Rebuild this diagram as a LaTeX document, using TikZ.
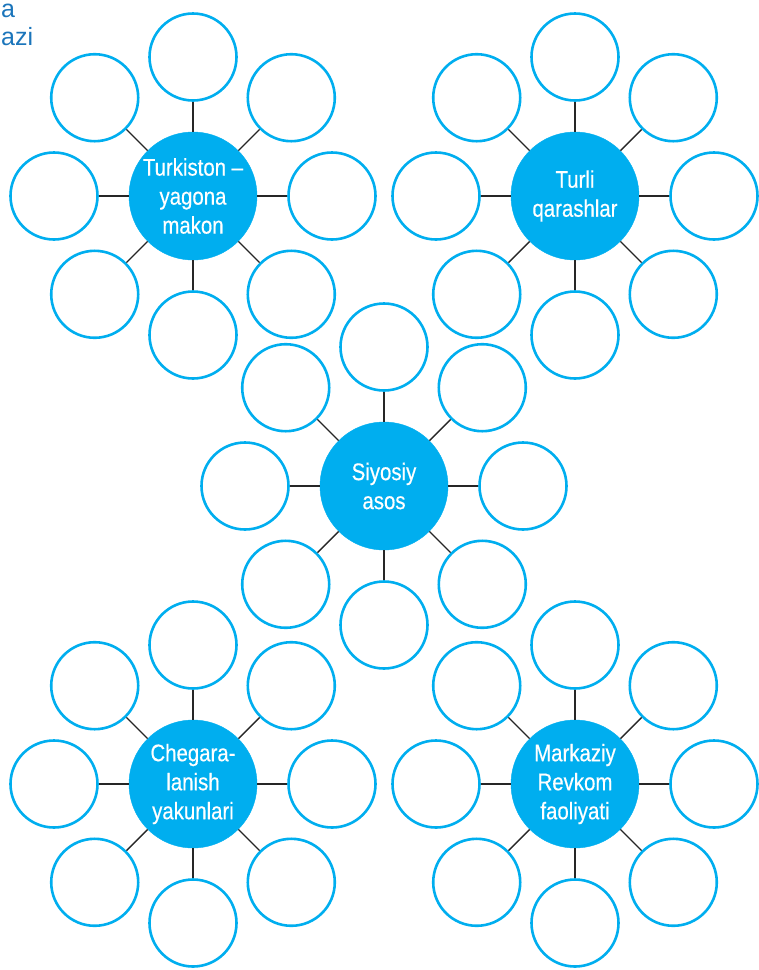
\documentclass[tikz,border=0pt]{standalone}
\usepackage{fontspec}
\setmainfont{Liberation Sans}[FakeStretch=0.85,FakeBold=0.4]
\newfontfamily\headfont{Liberation Sans}
\usetikzlibrary{calc}
\definecolor{cy}{HTML}{00AEEF}
\definecolor{hd}{HTML}{1B75BB}
\tikzset{
  hub/.style={circle, fill=cy, draw=cy, minimum size=128pt, inner sep=0pt, text=white, align=center, font=\fontsize{24}{29}\selectfont},
  sat/.style={circle, draw=cy, line width=2.6pt, fill=white, minimum size=87pt, inner sep=0pt},
  conn/.style={draw=black!85, line width=1.4pt},
  head/.style={anchor=base west, text=hd, inner sep=0pt, font=\headfont\fontsize{25}{25}\selectfont}
}
\newcommand\mycluster[3]{%
  \node[hub] (#1) at (#2) {#3};
  \foreach \a in {0,45,...,315} {
    \node[sat] (#1-\a) at ($(#1)+(\a:139)$) {};
    \draw[conn] (#1) -- (#1-\a);
  }%
}
\begin{document}
\begin{tikzpicture}[x=1pt,y=-1pt]
\useasboundingbox (0,0) rectangle (759,970);
\node[head] (h1) at (1,17) {a};
\node[head] (h2) at (1,45) {azi};
\mycluster{A}{193,196}{Turkiston –\\yagona\\makon}
\mycluster{B}{575,196}{Turli\\qarashlar}
\mycluster{C}{384,486}{Siyosiy\\asos}
\mycluster{D}{193,784}{Chegara-\\lanish\\yakunlari}
\mycluster{E}{575,784}{Markaziy\\Revkom\\faoliyati}
\end{tikzpicture}
\end{document}
